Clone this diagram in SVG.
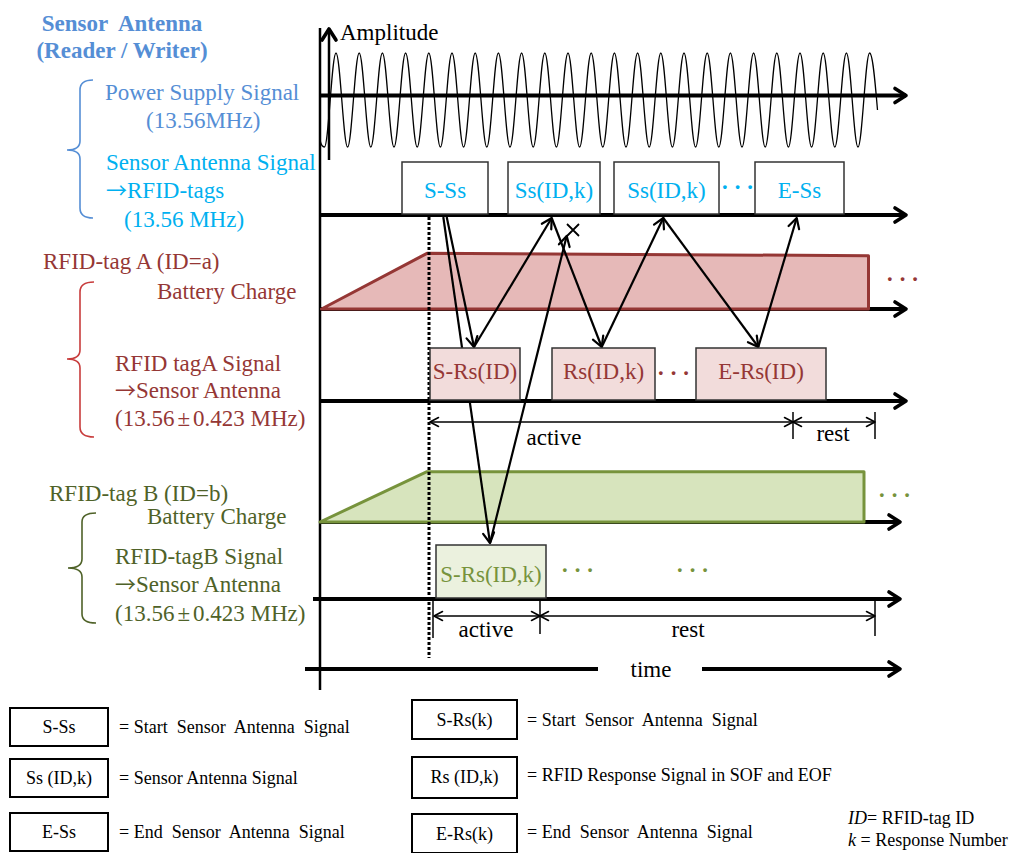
<svg xmlns="http://www.w3.org/2000/svg" width="1016" height="853" viewBox="0 0 1016 853">
<style>
text{font-family:"Liberation Serif","Times New Roman",serif;font-size:23px}
.lg{font-size:18px;fill:#000}
.blue{fill:#558ED5}
.cyan{fill:#00B0F0}
.red{fill:#953735}
.grn{fill:#4F6228}
.gbox{fill:#77933C}
.blk{fill:#000}
.arr{font-family:"Noto Sans CJK JP","Noto Sans CJK SC",sans-serif;font-size:21px}
.dots{font-weight:bold;letter-spacing:5px}
.axis{stroke:#000;stroke-width:4;fill:none;marker-end:url(#ah)}
.conn{stroke:#000;stroke-width:2.2;fill:none;marker-end:url(#ac)}
.dim{stroke:#000;stroke-width:1.5;fill:none;marker-start:url(#ad);marker-end:url(#ad)}
.tick{stroke:#000;stroke-width:1.5}
.sbox{stroke:#333;stroke-width:1.5}
.lbox{fill:#fff;stroke:#000;stroke-width:2}
.brace{fill:none;stroke-width:1.6}
.mid{text-anchor:middle}
</style>
<defs>
<marker id="ah" markerUnits="userSpaceOnUse" viewBox="0 0 20 20" markerWidth="20" markerHeight="20" refX="16" refY="10" orient="auto">
<path d="M5,3 L16,10 L5,17" fill="none" stroke="#000" stroke-width="3.6" stroke-linecap="round" stroke-linejoin="round"/>
</marker>
<marker id="ac" markerUnits="userSpaceOnUse" viewBox="0 0 14 14" markerWidth="14" markerHeight="14" refX="12" refY="7" orient="auto">
<path d="M2,1.5 L12,7 L2,12.5" fill="none" stroke="#000" stroke-width="2.2" stroke-linecap="round" stroke-linejoin="round"/>
</marker>
<marker id="ad" markerUnits="userSpaceOnUse" viewBox="0 0 12 12" markerWidth="12" markerHeight="12" refX="10" refY="6" orient="auto-start-reverse">
<path d="M1.5,1.5 L10,6 L1.5,10.5" fill="none" stroke="#000" stroke-width="1.6" stroke-linecap="round" stroke-linejoin="round"/>
</marker>
</defs>
<rect width="1016" height="853" fill="#fff"/>

<!-- left labels -->
<g id="label-antenna">
<text class="blue mid" x="122" y="31" font-weight="bold" xml:space="preserve">Sensor  Antenna</text>
<text class="blue mid" x="122" y="58" font-weight="bold">(Reader / Writer)</text>
<path class="brace" stroke="#558ED5" d="M93,80 Q80,80 80,90 L80,141 Q80,150 67,150 Q80,150 80,159 L80,208 Q80,218 93,218"/>
<text class="blue" x="105" y="100">Power Supply Signal</text>
<text class="blue" x="146" y="128">(13.56MHz)</text>
<text class="cyan" x="106" y="170">Sensor Antenna Signal</text>
<text class="cyan" x="106" y="198"><tspan class="arr">→</tspan>RFID-tags</text>
<text class="cyan" x="124" y="227">(13.56 MHz)</text>
</g>
<g id="label-tagA">
<text class="red" x="43" y="269">RFID-tag A (ID=a)</text>
<path class="brace" stroke="#C83C3C" d="M94,282 Q80,282 80,292 L80,350 Q80,359 67,359 Q80,359 80,368 L80,427 Q80,437 94,437"/>
<text class="red" x="157" y="299">Battery Charge</text>
<text class="red" x="115" y="371">RFID tagA Signal</text>
<text class="red" x="115" y="398"><tspan class="arr">→</tspan>Sensor Antenna</text>
<text class="red" x="115" y="426">(13.56<tspan dx="3">±</tspan><tspan dx="3">0.423 MHz)</tspan></text>
</g>
<g id="label-tagB">
<text class="grn" x="49" y="501">RFID-tag B (ID=b)</text>
<path class="brace" stroke="#4F6228" d="M96,513 Q82,513 82,522 L82,559 Q82,568 68,568 Q82,568 82,577 L82,614 Q82,623 96,623"/>
<text class="grn" x="147" y="524">Battery Charge</text>
<text class="grn" x="115" y="564">RFID-tagB Signal</text>
<text class="grn" x="115" y="592"><tspan class="arr">→</tspan>Sensor Antenna</text>
<text class="grn" x="115" y="621">(13.56<tspan dx="3">±</tspan><tspan dx="3">0.423 MHz)</tspan></text>
</g>

<!-- axes -->
<g id="axes">
<line x1="320" y1="28" x2="320" y2="690" stroke="#000" stroke-width="2.5"/>
<line class="axis" x1="329" y1="160" x2="329" y2="29" style="stroke-width:2.5"/>
<text class="blk" x="340" y="40">Amplitude</text>
<line class="axis" x1="320" y1="95.5" x2="906" y2="95.5"/>
<line class="axis" x1="320" y1="215" x2="906" y2="215"/>
<line class="axis" x1="320" y1="309" x2="906" y2="309"/>
<line class="axis" x1="320" y1="401" x2="906" y2="401"/>
<line class="axis" x1="320" y1="522" x2="900" y2="522"/>
<line class="axis" x1="313" y1="599" x2="900" y2="599"/>
<line x1="305" y1="669" x2="598" y2="669" stroke="#000" stroke-width="4"/>
<line class="axis" x1="702" y1="669" x2="900" y2="669"/>
<text class="blk mid" x="651" y="677">time</text>
</g>

<g id="power-signal">
<path fill="none" stroke="#000" stroke-width="1.3" d="M320,140 Q321.5,147 324.4,147 C328.62,147 331.78,53 336,53 s7.38,94 11.6,94 s7.38,-94 11.6,-94 s7.38,94 11.6,94 s7.38,-94 11.6,-94 s7.38,94 11.6,94 s7.38,-94 11.6,-94 s7.38,94 11.6,94 s7.38,-94 11.6,-94 s7.38,94 11.6,94 s7.38,-94 11.6,-94 s7.38,94 11.6,94 s7.38,-94 11.6,-94 s7.38,94 11.6,94 s7.38,-94 11.6,-94 s7.38,94 11.6,94 s7.38,-94 11.6,-94 s7.38,94 11.6,94 s7.38,-94 11.6,-94 s7.38,94 11.6,94 s7.38,-94 11.6,-94 s7.38,94 11.6,94 s7.38,-94 11.6,-94 s7.38,94 11.6,94 s7.38,-94 11.6,-94 s7.38,94 11.6,94 s7.38,-94 11.6,-94 s7.38,94 11.6,94 s7.38,-94 11.6,-94 s7.38,94 11.6,94 s7.38,-94 11.6,-94 s7.38,94 11.6,94 s7.38,-94 11.6,-94 s7.38,94 11.6,94 s7.38,-94 11.6,-94 s7.38,94 11.6,94 s7.38,-94 11.6,-94 s7.38,94 11.6,94 s7.38,-94 11.6,-94 s7.38,94 11.6,94 s7.38,-94 11.6,-94 s7.38,94 11.6,94 s7.38,-94 11.6,-94 s7.38,94 11.6,94 s7.38,-94 11.6,-94 s7.38,94 11.6,94 s7.38,-94 11.6,-94 C872.6,53 875,80 877.5,110"/>
</g>

<g id="battery-A">
<path d="M321.5,309 L427,253.3 L868.5,255.7 L868.5,309 Z" fill="#E6B9B8" stroke="#953735" stroke-width="3" stroke-linejoin="round"/>
<text class="red dots" x="886" y="287">···</text>
</g>
<g id="battery-B">
<path d="M320,522 L427,471.7 L864,471.7 L864,522 Z" fill="#D7E4BD" stroke="#77933C" stroke-width="3" stroke-linejoin="round"/>
<text class="gbox dots" x="878" y="503">···</text>
</g>

<line id="sync-line" x1="429" y1="217" x2="429" y2="658" stroke="#000" stroke-width="3" stroke-dasharray="3 2"/>

<g id="durations">
<line class="dim" x1="430" y1="422" x2="793" y2="422"/>
<line class="dim" x1="793" y1="422" x2="875" y2="422"/>
<line class="tick" x1="793" y1="412" x2="793" y2="439"/>
<line class="tick" x1="875" y1="412" x2="875" y2="439"/>
<text class="blk mid" x="554" y="445">active</text>
<text class="blk mid" x="833" y="441">rest</text>
<line class="dim" x1="434" y1="616" x2="540" y2="616"/>
<line class="dim" x1="540" y1="616" x2="875" y2="616"/>
<line class="tick" x1="433" y1="600" x2="433" y2="638"/>
<line class="tick" x1="540" y1="597" x2="540" y2="634"/>
<line class="tick" x1="875" y1="600" x2="875" y2="636"/>
<text class="blk mid" x="486" y="637">active</text>
<text class="blk mid" x="688" y="637">rest</text>
</g>

<g id="connectors">
<path class="conn" d="M443.3,217 L490,543"/>
<path class="conn" d="M446.7,217 L474,347"/>
<path class="conn" d="M474,347 L551.7,218"/>
<path class="conn" d="M490,543 L566.7,236"/>
<path class="conn" d="M551.7,218 L601.7,347"/>
<path class="conn" d="M601.7,347 L663.3,218"/>
<path class="conn" d="M663.3,218 L758.3,347"/>
<path class="conn" d="M758.3,347 L796.7,218"/>
<path d="M567,224 L579,236 M579,224 L567,236" stroke="#000" stroke-width="1.8"/>
</g>

<!-- sensor antenna signal frames -->
<g id="S-Ss"><rect class="sbox" x="402" y="162" width="86" height="52" fill="#fff"/><text class="cyan mid" x="445" y="198">S-Ss</text></g>
<g id="Ss1"><rect class="sbox" x="508" y="162" width="92" height="52" fill="#fff"/><text class="cyan mid" x="554" y="198">Ss(ID,k)</text></g>
<g id="Ss2"><rect class="sbox" x="614" y="162" width="105" height="52" fill="#fff"/><text class="cyan mid" x="666.5" y="198">Ss(ID,k)</text></g>
<text class="cyan dots" x="721" y="195">···</text>
<g id="E-Ss"><rect class="sbox" x="755" y="162" width="89" height="52" fill="#fff"/><text class="cyan mid" x="799.5" y="198">E-Ss</text></g>

<!-- tag A frames -->
<g id="S-Rs-A"><rect class="sbox" x="430" y="348" width="90" height="52" fill="#F2DCDB"/><text class="red mid" x="475" y="379">S-Rs(ID)</text></g>
<g id="Rs-A"><rect class="sbox" x="552" y="348" width="103" height="52" fill="#F2DCDB"/><text class="red mid" x="603.5" y="379">Rs(ID,k)</text></g>
<text class="red dots" x="657" y="381">···</text>
<g id="E-Rs-A"><rect class="sbox" x="696" y="348" width="130" height="52" fill="#F2DCDB"/><text class="red mid" x="761" y="379">E-Rs(ID)</text></g>

<!-- tag B frames -->
<g id="S-Rs-B"><rect class="sbox" x="436" y="545" width="110" height="53" fill="#EBF1DE"/><text class="gbox mid" x="491" y="582">S-Rs(ID,k)</text></g>
<text class="gbox dots" x="561" y="578">···</text>
<text class="gbox dots" x="676" y="578">···</text>

<!-- legend -->
<g id="legend-S-Ss"><rect class="lbox" x="10" y="708" width="98" height="38"/><text class="lg mid" x="59" y="733">S-Ss</text><text class="lg" x="119" y="733" xml:space="preserve">= Start  Sensor  Antenna  Signal</text></g>
<g id="legend-Ss"><rect class="lbox" x="10" y="759" width="98" height="38"/><text class="lg mid" x="59" y="784">Ss (ID,k)</text><text class="lg" x="119" y="784">= Sensor Antenna Signal</text></g>
<g id="legend-E-Ss"><rect class="lbox" x="10" y="813" width="98" height="38"/><text class="lg mid" x="59" y="838">E-Ss</text><text class="lg" x="119" y="838" xml:space="preserve">= End  Sensor  Antenna  Signal</text></g>
<g id="legend-S-Rs"><rect class="lbox" x="412" y="700" width="105" height="39"/><text class="lg mid" x="464.5" y="726">S-Rs(k)</text><text class="lg" x="527" y="726" xml:space="preserve">= Start  Sensor  Antenna  Signal</text></g>
<g id="legend-Rs"><rect class="lbox" x="412" y="757" width="105" height="41"/><text class="lg mid" x="464.5" y="783">Rs (ID,k)</text><text class="lg" x="527" y="781">= RFID Response Signal in SOF and EOF</text></g>
<g id="legend-E-Rs"><rect class="lbox" x="412" y="814" width="105" height="39"/><text class="lg mid" x="464.5" y="840">E-Rs(k)</text><text class="lg" x="527" y="838" xml:space="preserve">= End  Sensor  Antenna  Signal</text></g>
<g id="legend-notes">
<text class="lg" x="848" y="824"><tspan font-style="italic">ID</tspan>= RFID-tag ID</text>
<text class="lg" x="848" y="846"><tspan font-style="italic">k</tspan> = Response Number</text>
</g>
</svg>
